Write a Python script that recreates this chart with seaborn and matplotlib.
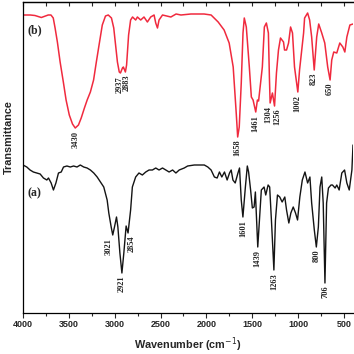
import matplotlib
matplotlib.use("Agg")
import matplotlib.pyplot as plt
from matplotlib.ticker import FixedLocator
import seaborn as sns
import pandas as pd

# ---------------- data ----------------
# (b) red spectrum
red_wn = [4000, 3920, 3870, 3835, 3800, 3770, 3725, 3695, 3670, 3650, 3625, 3595,
          3560, 3530, 3495, 3460, 3430, 3395, 3365, 3330, 3300, 3265, 3230, 3200,
          3165, 3135, 3100, 3070, 3035, 3010, 2990, 2970, 2950, 2937, 2915, 2905,
          2883, 2870, 2848, 2826, 2805, 2771, 2752, 2716, 2680, 2643, 2607, 2570,
          2552, 2533, 2516, 2478, 2387, 2330, 2277, 2168, 2025, 1948, 1871, 1806,
          1751, 1707, 1674, 1658, 1641, 1619, 1600, 1586, 1564, 1531, 1509, 1490,
          1461, 1443, 1430, 1389, 1367, 1345, 1323, 1312, 1304, 1279, 1256, 1235,
          1213, 1191, 1158, 1147, 1125, 1103, 1081, 1060, 1038, 1002, 983, 939,
          928, 895, 873, 851, 823, 796, 774, 741, 708, 676, 650, 632, 610, 577,
          544, 511, 489, 467, 434, 400]
red_T = [298, 298, 297.5, 296.5, 295.5, 296.5, 298, 298, 295, 285, 271, 251,
         231, 213, 198, 189, 185, 188, 195, 205, 213, 221, 233, 251,
         271, 288, 297, 298, 295, 285, 268, 251, 241, 240, 245, 246,
         241, 248, 278, 293, 296, 293, 296, 293, 296, 291, 296, 298,
         290, 285, 293, 298, 296, 299, 298, 299, 299, 298, 291, 283,
         270, 246, 200, 176, 186, 230, 280, 295, 286, 246, 216, 213,
         201, 213, 212, 246, 286, 290, 280, 236, 210, 220, 207, 240,
         263, 275, 271, 263, 263, 270, 286, 280, 246, 221, 243, 280,
         295, 300, 293, 276, 243, 276, 289, 280, 270, 246, 233, 253, 261, 260,
         270, 266, 261, 276, 288, 289]

# (a) black spectrum
black_wn = [4000, 3959, 3923, 3887, 3850, 3813, 3777, 3740, 3722, 3693, 3668, 3641,
            3613, 3583, 3558, 3521, 3484, 3448, 3411, 3375, 3338, 3301, 3265, 3228,
            3191, 3155, 3119, 3082, 3064, 3038, 3021, 3002, 2980, 2965, 2943, 2921,
            2900, 2875, 2854, 2826, 2807, 2771, 2735, 2698, 2661, 2625, 2588, 2552,
            2516, 2478, 2442, 2406, 2368, 2332, 2296, 2241, 2204, 2131, 2058, 2022,
            1984, 1948, 1912, 1882, 1857, 1831, 1802, 1773, 1747, 1729, 1710, 1685,
            1655, 1638, 1619, 1601, 1574, 1553, 1539, 1517, 1498, 1479, 1465, 1452,
            1439, 1420, 1400, 1370, 1352, 1326, 1309, 1290, 1263, 1246, 1224, 1199,
            1173, 1144, 1125, 1100, 1078, 1052, 1027, 1005, 980, 953, 924, 895,
            870, 851, 822, 800, 778, 760, 741, 725, 706, 688, 668, 640, 624, 595,
            577, 551, 522, 492, 467, 441, 412, 400]
black_T = [148, 146, 143, 141, 140, 139, 135, 133, 135, 130, 123, 130,
           140, 141, 146, 147, 146, 147, 146, 148, 146, 145, 143, 140,
           136, 131, 126, 113, 100, 86, 78, 86, 96, 86, 60, 40,
           60, 87, 80, 103, 126, 136, 140, 138, 141, 143, 143, 145,
           143, 145, 143, 141, 143, 140, 143, 145, 147, 148, 148, 148,
           146, 143, 136, 135, 141, 136, 141, 133, 140, 143, 133, 130,
           140, 145, 113, 96, 126, 147, 141, 123, 105, 106, 121, 93,
           66, 93, 123, 126, 118, 128, 126, 93, 43, 93, 118, 116,
           111, 116, 103, 90, 100, 106, 100, 93, 116, 133, 141, 130,
           136, 110, 83, 66, 86, 126, 136, 110, 30, 110, 125, 128, 128, 125,
           128, 123, 140, 143, 130, 123, 143, 168]

red_labels = [3430, 2937, 2883, 1658, 1461, 1304, 1256, 1002, 823, 650]
black_labels = [3021, 2921, 2854, 1601, 1439, 1263, 800, 706]

x_major = [4000, 3500, 3000, 2500, 2000, 1500, 1000, 500]
x_minor = [3750, 3250, 2750, 2250, 1750, 1250, 750]

# ---------------- style ----------------
sns.set_style("ticks")
plt.rcParams["font.family"] = ["Liberation Sans", "DejaVu Sans"]

fig = plt.figure(figsize=(3.54, 3.54), dpi=100)
ax = fig.add_axes([23 / 354, 41 / 354, 330 / 354, 311 / 354])

red_df = pd.DataFrame({"wn": red_wn, "T": red_T})
black_df = pd.DataFrame({"wn": black_wn, "T": black_T})
sns.lineplot(data=red_df, x="wn", y="T", ax=ax, color="#f02a3e", lw=1.1,
             sort=False, estimator=None)
sns.lineplot(data=black_df, x="wn", y="T", ax=ax, color="#141414", lw=1.0,
             sort=False, estimator=None)

ax.set_xlim(4000, 400)
ax.set_ylim(0, 311)
ax.set_yticks([])
ax.xaxis.set_major_locator(FixedLocator(x_major))
ax.xaxis.set_minor_locator(FixedLocator(x_minor))
ax.tick_params(axis="x", which="major", direction="out", length=3.5, width=0.8,
               labelsize=6.5, pad=1.5)
ax.tick_params(axis="x", which="minor", direction="out", length=2, width=0.8)
for lab in ax.get_xticklabels():
    lab.set_fontweight("bold")

top = ax.secondary_xaxis("top")
top.xaxis.set_major_locator(FixedLocator(x_major + x_minor))
top.tick_params(axis="x", which="major", direction="in", length=3, width=0.8,
                labeltop=False)

for s in ["left", "bottom", "top"]:
    ax.spines[s].set_linewidth(0.9)
    ax.spines[s].set_color("black")
ax.spines["right"].set_visible(False)
top.spines["top"].set_linewidth(0.9)

ax.set_xlabel("Wavenumber (cm$^{-1}$)", fontsize=7.8, fontweight="bold", labelpad=5)
ax.set_ylabel("Transmittance", fontsize=7.8, fontweight="bold")
ax.yaxis.set_label_coords(-0.028, 0.565)

def label_peaks(wns, Ts, labels, dxs):
    for lab, dx in zip(labels, dxs):
        i = min(range(len(wns)), key=lambda k: abs(wns[k] - lab))
        ax.annotate(str(lab), xy=(lab, Ts[i]), xytext=(dx, -2),
                    textcoords="offset points", rotation=90, ha="center",
                    va="top", fontsize=6, family=["Liberation Serif"],
                    fontweight="bold")

label_peaks(red_wn, red_T, red_labels, [0, -0.5, 0.8, 0, 0, -1.3, 1.9, 0, 0, 0])
label_peaks(black_wn, black_T, black_labels, [-2.8, 0, 2.4, 0, 0, 0, 0, 0.5])

ax.text(0.013, 0.908, "(b)", transform=ax.transAxes, fontsize=8.5,
        family=["Liberation Serif"], fontweight="bold", va="center")
ax.text(0.013, 0.385, "(a)", transform=ax.transAxes, fontsize=8.5,
        family=["Liberation Serif"], fontweight="bold", va="center")

fig.savefig("out.png", dpi=100)
